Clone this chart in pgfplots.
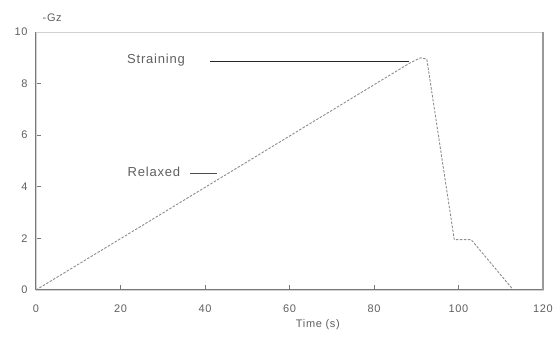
\documentclass[border=0pt]{standalone}
\usepackage{pgfplots}
\pgfplotsset{compat=1.18}
\usepackage{fontspec}
\setmainfont{Liberation Sans}[LetterSpace=6]
\definecolor{axgray}{RGB}{120,120,120}
\definecolor{txtgray}{RGB}{95,95,95}
\definecolor{curvegray}{RGB}{140,140,140}
\begin{document}
\begin{tikzpicture}
\useasboundingbox (-36pt,-55pt) rectangle (518pt,290pt);
\begin{axis}[
  scale only axis,
  width=507pt, height=258pt,
  xmin=0, xmax=120, ymin=0, ymax=10,
  clip=false,
  xtick={0,20,40,60,80,100,120},
  ytick={0,2,4,6,8,10},
  tick align=inside,
  xtick pos=bottom, ytick pos=left,
  major tick length=5pt,
  axis line style={black!18, line width=0.8pt},
  tick style={axgray, line width=0.8pt},
  tick label style={font=\fontsize{11}{13}\selectfont, text=txtgray},
  /pgf/number format/assume math mode=true,
  xticklabel style={yshift=-11pt},
  yticklabel style={xshift=-5pt},
]
\draw[axgray, line width=1pt] (rel axis cs:0,1) -- (rel axis cs:0,0) -- (rel axis cs:1,0);
\draw[black!40, line width=1.2pt] (rel axis cs:1,0) -- (rel axis cs:1,1);
\addplot[curvegray, line width=0.9pt, dash pattern=on 2.5pt off 1.5pt] coordinates {
  (0,0) (88.5,8.8) (91,9.0) (92.5,8.95) (99,1.95) (103,1.95) (113,0)
};
\addplot[black!85, line width=1.2pt] coordinates {(41.2,8.85) (88.2,8.85)};
\addplot[black!70, line width=0.8pt] coordinates {(36.4,4.53) (42.8,4.53)};
\node[font=\fontsize{13}{15}\selectfont, text=txtgray] at (axis cs:28.4,8.92) {Straining};
\node[font=\fontsize{13}{15}\selectfont, text=txtgray] at (axis cs:27.9,4.58) {Relaxed};
\node[font=\fontsize{11}{13}\selectfont, text=txtgray] at (axis description cs:0.032,1.055) {-Gz};
\node[font=\fontsize{11}{13}\selectfont, text=txtgray] at (axis description cs:0.556,-0.136) {Time (s)};
\end{axis}
\end{tikzpicture}
\end{document}
